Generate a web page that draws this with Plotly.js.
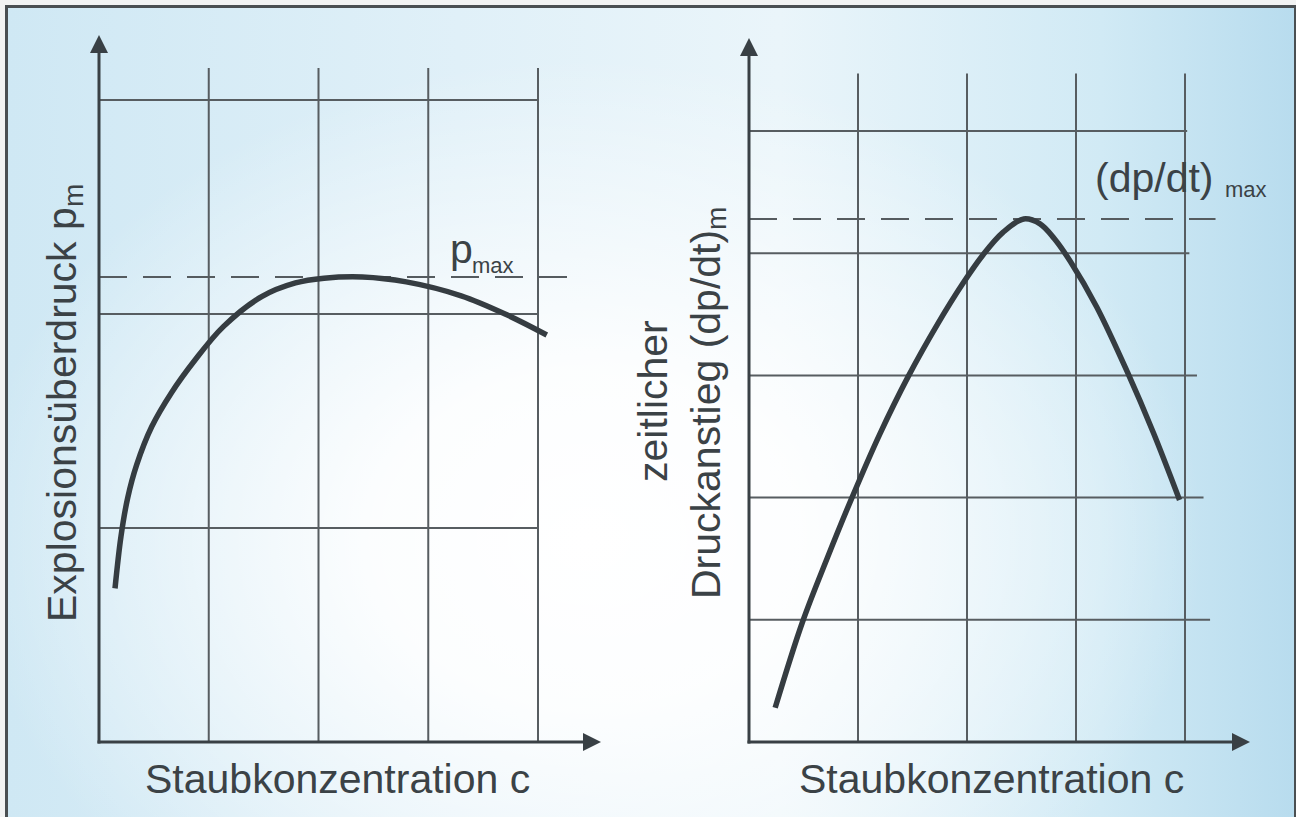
<!DOCTYPE html>
<html>
<head>
<meta charset="utf-8">
<script src="https://cdn.plot.ly/plotly-3.0.1.min.js"></script>
<style>
  html, body { margin: 0; padding: 0; width: 1296px; height: 817px; overflow: hidden; background: #f2f3f3; }
  #bg {
    position: absolute; left: 5px; top: 5px; width: 1286px; height: 830px;
    border: 3px solid #4a4f52;
    background:
      radial-gradient(ellipse 48% 58% at 45% 64%, rgba(255,255,255,1) 0%, rgba(255,255,255,0.9) 35%, rgba(255,255,255,0) 100%),
      linear-gradient(90deg, #cfe8f4 0%, #e0f0f8 35%, #eaf5fa 60%, #d1eaf5 85%, #b8dcee 100%);
  }
  #chart { position: absolute; left: 0; top: 0; width: 1296px; height: 817px; }
</style>
</head>
<body>
<div id="bg"></div>
<div id="chart"></div>
<script>
// ---- data (schematic) ----
const gridC = [1, 2, 3, 4];              // vertical grid positions (concentration units)
const gridPLeft = [1, 2, 3];             // horizontal grid, left chart
const gridPRight = [1, 2, 3, 4, 5];      // horizontal grid, right chart

const cLeft = [0.146, 0.20, 0.261, 0.343, 0.48, 0.656, 0.875, 1.133, 1.482, 1.79, 2.05, 2.40, 2.80, 3.30, 3.70, 4.08];
const pLeft = [0.718, 0.96, 1.14, 1.295, 1.473, 1.629, 1.785, 1.941, 2.081, 2.145, 2.167, 2.173, 2.15, 2.085, 2.00, 1.902];
const pMax = 2.173;

const cRight = [0.24, 0.49, 0.72, 0.94, 1.20, 1.46, 1.73, 1.96, 2.15, 2.33, 2.52, 2.67, 2.80, 2.95, 3.19, 3.47, 3.71, 3.95];
const dRight = [0.28, 0.98, 1.51, 1.99, 2.52, 2.99, 3.42, 3.75, 3.99, 4.17, 4.28, 4.24, 4.12, 3.93, 3.56, 3.03, 2.53, 1.98];
const dpdtMax = 4.28;

const xTitle = 'Staubkonzentration c';
const yTitleLeft = ['Explosionsüberdruck p', 'm'];
const yTitleRight = ['zeitlicher', 'Druckanstieg (dp/dt)', 'm'];
const maxLabelLeft = ['p', 'max'];
const maxLabelRight = ['(dp/dt)', 'max'];

// ---- styling ----
const W = 1296, H = 817;
const FONT = '"Liberation Sans", Arial, Helvetica, sans-serif';
const TXT = '#3b4246';
const CURVE = '#353c41';
const GRID = '#575d61';
const AXIS = '#394045';
const px = v => v / W;
const py = v => 1 - v / H;
const PAD = 10; // px of room left/below the origin so axis lines are not clipped

// left chart: origin (99,742), 109.75 px per x unit, 214 px per y unit
const L = { x0: 99, x1: 601, y0: 742, y1: 35, ux: 109.75, uy: 214 };
// right chart: origin (749,742), 109 px per x unit, 122.2 px per y unit
const R = { x0: 749, x1: 1250, y0: 742, y1: 38, ux: 109, uy: 122.2 };

const xMaxL = (L.x1 - L.x0) / L.ux, yMaxL = (L.y0 - L.y1) / L.uy;
const xMaxR = (R.x1 - R.x0) / R.ux, yMaxR = (R.y0 - R.y1) / R.uy;

const curveLine = { shape: 'spline', smoothing: 1, color: CURVE, width: 5.5 };
const traces = [
  { x: cLeft, y: pLeft, xaxis: 'x', yaxis: 'y', mode: 'lines', line: curveLine, hoverinfo: 'skip' },
  { x: cRight, y: dRight, xaxis: 'x2', yaxis: 'y2', mode: 'lines', line: curveLine, hoverinfo: 'skip' },
  // arrow heads at the axis ends (tip of the symbol sits on the point)
  { x: [0, xMaxL], y: [yMaxL, 0], xaxis: 'x', yaxis: 'y', mode: 'markers', cliponaxis: false, hoverinfo: 'skip',
    marker: { symbol: ['arrow-up', 'arrow-right'], size: 18, color: AXIS, line: { width: 0 } } },
  { x: [0, xMaxR], y: [yMaxR, 0], xaxis: 'x2', yaxis: 'y2', mode: 'markers', cliponaxis: false, hoverinfo: 'skip',
    marker: { symbol: ['arrow-up', 'arrow-right'], size: 18, color: AXIS, line: { width: 0 } } }
];

const shapes = [];
const gl = { color: GRID, width: 2 };
const dl = { color: '#555b5f', width: 2, dash: '28px,16px' };
const al = { color: AXIS, width: 3 };
// left grid
gridC.forEach(c => shapes.push({ type: 'line', xref: 'x', yref: 'y', x0: c, x1: c, y0: 0, y1: 3.15, line: gl, layer: 'below' }));
gridPLeft.forEach(p => shapes.push({ type: 'line', xref: 'x', yref: 'y', x0: 0, x1: 4, y0: p, y1: p, line: gl, layer: 'below' }));
shapes.push({ type: 'line', xref: 'x', yref: 'y', x0: 0, x1: 4.27, y0: pMax, y1: pMax, line: dl, layer: 'below' });
// left axes
shapes.push({ type: 'line', xref: 'x', yref: 'y', x0: -1.5 / L.ux, x1: xMaxL - 8 / L.ux, y0: 0, y1: 0, line: al });
shapes.push({ type: 'line', xref: 'x', yref: 'y', x0: 0, x1: 0, y0: -1.5 / L.uy, y1: yMaxL - 8 / L.uy, line: al });
// right grid
const rightEnds = [4.23, 4.17, 4.11, 4.04, 4.02];
gridC.forEach(c => shapes.push({ type: 'line', xref: 'x2', yref: 'y2', x0: c, x1: c, y0: 0, y1: 5.47, line: gl, layer: 'below' }));
gridPRight.forEach((p, i) => shapes.push({ type: 'line', xref: 'x2', yref: 'y2', x0: 0, x1: rightEnds[i], y0: p, y1: p, line: gl, layer: 'below' }));
shapes.push({ type: 'line', xref: 'x2', yref: 'y2', x0: 0, x1: 4.28, y0: dpdtMax, y1: dpdtMax, line: dl, layer: 'below' });
// right axes
shapes.push({ type: 'line', xref: 'x2', yref: 'y2', x0: -1.5 / R.ux, x1: xMaxR - 8 / R.ux, y0: 0, y1: 0, line: al });
shapes.push({ type: 'line', xref: 'x2', yref: 'y2', x0: 0, x1: 0, y0: -1.5 / R.uy, y1: yMaxR - 8 / R.uy, line: al });

function label(text, x, y, size, opts) {
  return Object.assign({ xref: 'paper', yref: 'paper', x: px(x), y: py(y), text: text, showarrow: false,
    font: { family: FONT, size: size, color: TXT }, xanchor: 'center', yanchor: 'middle' }, opts || {});
}
const rot = { textangle: -90 };

const annotations = [
  label(xTitle, 337, 779, 41),
  label(xTitle, 991, 779, 41),
  // left y title + subscript
  label(yTitleLeft[0], 62, 415, 41, rot),
  label(yTitleLeft[1], 73, 196, 28, rot),
  // right y title (two lines) + subscript
  label(yTitleRight[0], 653, 401, 41, rot),
  label(yTitleRight[1], 706, 415, 41, rot),
  label(yTitleRight[2], 717, 219, 28, rot),
  // level labels
  label(maxLabelLeft[0], 448, 249, 41, { xanchor: 'left' }),
  label(maxLabelLeft[1], 470, 265, 22, { xanchor: 'left' }),
  label(maxLabelRight[0], 1093, 178, 41, { xanchor: 'left' }),
  label(maxLabelRight[1], 1223, 190, 22, { xanchor: 'left' })
];

const hidden = { visible: false, showgrid: false, zeroline: false, showticklabels: false, showline: false, fixedrange: true };

const layout = {
  width: W, height: H,
  margin: { l: 0, r: 0, t: 0, b: 0 },
  paper_bgcolor: 'rgba(0,0,0,0)', plot_bgcolor: 'rgba(0,0,0,0)',
  showlegend: false,
  font: { family: FONT, color: TXT },
  xaxis: Object.assign({ domain: [px(L.x0 - PAD), px(L.x1)], range: [-PAD / L.ux, xMaxL], anchor: 'y' }, hidden),
  yaxis: Object.assign({ domain: [py(L.y0 + PAD), py(L.y1)], range: [-PAD / L.uy, yMaxL], anchor: 'x' }, hidden),
  xaxis2: Object.assign({ domain: [px(R.x0 - PAD), px(R.x1)], range: [-PAD / R.ux, xMaxR], anchor: 'y2' }, hidden),
  yaxis2: Object.assign({ domain: [py(R.y0 + PAD), py(R.y1)], range: [-PAD / R.uy, yMaxR], anchor: 'x2' }, hidden),
  shapes: shapes,
  annotations: annotations
};

Plotly.newPlot('chart', traces, layout, { staticPlot: true, displayModeBar: false });
</script>
</body>
</html>
